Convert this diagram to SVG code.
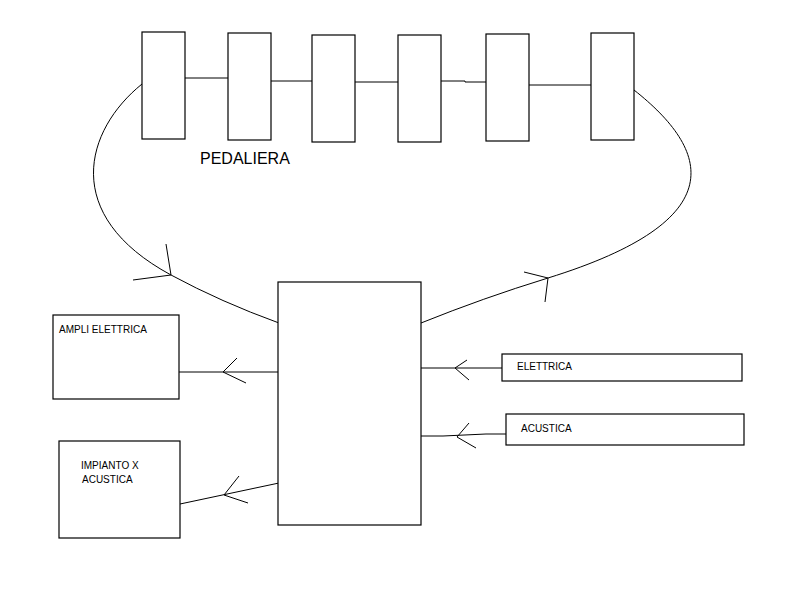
<svg xmlns="http://www.w3.org/2000/svg" width="794" height="602" viewBox="0 0 794 602">
<style>
rect{fill:#fff;stroke:#000;stroke-width:1.2}
.c path,.c line{fill:none;stroke:#000;stroke-width:1}
text{font-family:"Liberation Sans",Arial,sans-serif;fill:#000;font-size:10px}
.big{font-size:16px}
</style>
<rect x="0" y="0" width="794" height="602" style="stroke:none"/>
<g class="c" id="connectors">
<line x1="185" y1="78" x2="228" y2="78"/>
<line x1="271" y1="81" x2="315" y2="81"/>
<line x1="355" y1="82" x2="398" y2="82"/>
<path d="M441,81 L465,81 L465,82 L487,82"/>
<line x1="529" y1="85" x2="591" y2="85"/>
<path d="M142,84 C85,130 60,215 171,275 Q221,302 279,323"/>
<path d="M166,244 L171,275 L133,280"/>
<path d="M634,90 C710,150 735,220 548,278 Q483,298 421,323"/>
<path d="M524,272 L548,278 L545,302"/>
<line x1="278" y1="372" x2="179" y2="372"/>
<path d="M237,358 L223,372 L246,383"/>
<line x1="279" y1="483" x2="180" y2="504"/>
<path d="M239,476 L224,495 L248,503"/>
<line x1="421" y1="368" x2="502" y2="368"/>
<path d="M467,360 L455,368 L469,380"/>
<path d="M421,436 L443,436 L486,434 L506,434"/>
<path d="M469,423 L457,437 L476,448"/>
</g>
<g id="pedal1"><rect x="142" y="32" width="43" height="107"/></g>
<g id="pedal2"><rect x="228" y="33" width="43" height="107"/></g>
<g id="pedal3"><rect x="312" y="35" width="43" height="107"/></g>
<g id="pedal4"><rect x="398" y="35" width="43" height="107"/></g>
<g id="pedal5"><rect x="486" y="34" width="43" height="107"/></g>
<g id="pedal6"><rect x="591" y="33" width="43" height="107"/></g>
<g id="pedaliera-label"><text class="big" x="200" y="164">PEDALIERA</text></g>
<g id="mixer"><rect x="278" y="282" width="143" height="243"/></g>
<g id="ampli"><rect x="53" y="315" width="126" height="84"/><text x="59" y="333">AMPLI ELETTRICA</text></g>
<g id="impianto"><rect x="59" y="441" width="121" height="97"/><text x="81" y="469">IMPIANTO X</text><text x="82" y="483">ACUSTICA</text></g>
<g id="elettrica"><rect x="502" y="354" width="240" height="27"/><text x="517" y="370">ELETTRICA</text></g>
<g id="acustica"><rect x="506" y="414" width="238" height="31"/><text x="521" y="432">ACUSTICA</text></g>
</svg>
